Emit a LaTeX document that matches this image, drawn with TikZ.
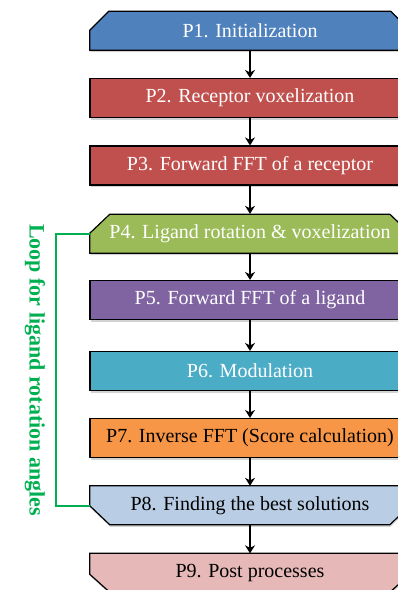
\documentclass[tikz,border=0pt]{standalone}
\usepackage{fontspec}
\setmainfont{Liberation Serif}
\usetikzlibrary{arrows.meta,shadows,backgrounds}

\definecolor{initblue}{HTML}{4F81BD}
\definecolor{recred}{HTML}{C0504D}
\definecolor{liggreen}{HTML}{9BBB59}
\definecolor{fftpurple}{HTML}{8064A2}
\definecolor{modaqua}{HTML}{4BACC6}
\definecolor{invorange}{HTML}{F79646}
\definecolor{bestblue}{HTML}{B9CDE5}
\definecolor{postpink}{HTML}{E6B9B8}
\definecolor{loopgreen}{HTML}{00B050}

\tikzset{
  steptext/.style={minimum width=320pt, minimum height=39pt, inner sep=0pt,
    font=\fontsize{20}{22}\selectfont, text=white},
  boxline/.style={draw=black, line width=1.2pt,
    drop shadow={shadow xshift=0.5pt, shadow yshift=-2pt, opacity=0.35}},
  stepbox/.style={steptext, boxline},
  flow/.style={-{Stealth[length=8pt,width=10pt]}, line width=2pt, black},
  loopline/.style={color=loopgreen, line width=2pt},
}

\begin{document}
\begin{tikzpicture}[x=1pt,y=-1pt]
  \useasboundingbox (0,0) rectangle (398,590);

  % steps of the docking flow
  \node[steptext] (p1) at (250,30.5) {P1. Initialization};
  \node[stepbox, fill=recred] (p2) at (250,98) {P2. Receptor voxelization};
  \node[stepbox, fill=recred] (p3) at (250,165.5) {P3. Forward FFT of a receptor};
  \node[steptext] (p4) at (250,233.5) {P4. Ligand rotation \& voxelization};
  \node[stepbox, fill=fftpurple] (p5) at (250,300) {P5. Forward FFT of a ligand};
  \node[stepbox, fill=modaqua] (p6) at (250,371) {P6. Modulation};
  \node[stepbox, fill=invorange, text=black] (p7) at (250,438) {P7. Inverse FFT (Score calculation)};
  \node[steptext, text=black] (p8) at (250,505.5) {P8. Finding the best solutions};
  \node[steptext, text=black] (p9) at (250,573) {P9. Post processes};

  % cut corners behind the texts
  \begin{pgfonlayer}{background}
    \filldraw[boxline, fill=initblue] (p1.south west) -- ++(0,-20) -- ++(19,-19)
      -- ++(282,0) -- ++(19,19) -- (p1.south east) -- cycle;
    \filldraw[boxline, fill=liggreen] (p4.south west) -- ++(0,-20) -- ++(20,-19)
      -- ++(280,0) -- ++(20,19) -- (p4.south east) -- cycle;
    \filldraw[boxline, fill=bestblue] (p8.north west) -- ++(0,20) -- ++(20,19)
      -- ++(280,0) -- ++(20,-19) -- (p8.north east) -- cycle;
    \filldraw[boxline, fill=postpink] (p9.north west) -- ++(0,21) -- ++(20,18)
      -- ++(280,0) -- ++(20,-18) -- (p9.north east) -- cycle;
  \end{pgfonlayer}

  \draw[flow] (p1) -- (p2);
  \draw[flow] (p2) -- (p3);
  \draw[flow] (p3) -- (p4);
  \draw[flow] (p4) -- (p5);
  \draw[flow] (p5) -- (p6);
  \draw[flow] (p6) -- (p7);
  \draw[flow] (p7) -- (p8);
  \draw[flow] (p8) -- (p9);

  % loop over rotation angles
  \draw[loopline] (p4.west) -- ++(-34,0) |- (p8.west);
  \node[rotate=-90, text=loopgreen, font=\bfseries\fontsize{22}{24}\selectfont] (looptxt) at (35,370) {Loop for ligand rotation angles};
\end{tikzpicture}
\end{document}
